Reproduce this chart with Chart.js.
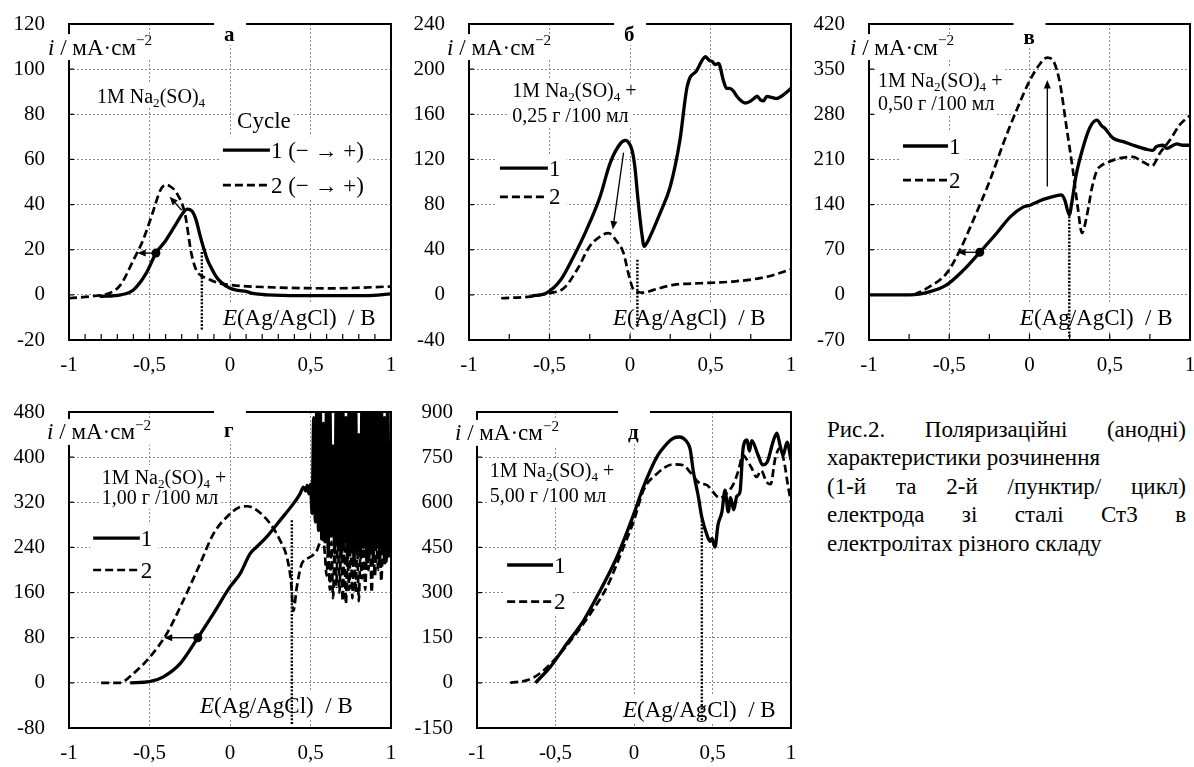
<!DOCTYPE html>
<html>
<head>
<meta charset="utf-8">
<script src="https://cdn.jsdelivr.net/npm/chart.js@4.4.1/dist/chart.umd.min.js"></script>
<style>
  body { margin: 0; background: #fff; width: 1194px; height: 767px; position: relative; overflow: hidden; }
  canvas { position: absolute; }
  #caption { position: absolute; left: 827px; top: 416px; width: 359px; font-size: 23px; line-height: 28.4px; color: #000;
             font-family: "Liberation Serif", "DejaVu Serif", "Times New Roman", serif; }
  #caption .j { text-align: justify; text-align-last: justify; }
</style>
</head>
<body>
<canvas id="pa" width="400" height="385" style="left:0;top:0"></canvas>
<canvas id="pb" width="400" height="385" style="left:400px;top:0"></canvas>
<canvas id="pc" width="394" height="385" style="left:800px;top:0"></canvas>
<canvas id="pd" width="400" height="382" style="left:0;top:385px"></canvas>
<canvas id="pe" width="400" height="382" style="left:400px;top:385px"></canvas>
<div id="caption">
  <div class="j">Рис.2. Поляризаційні (анодні)</div>
  <div>характеристики розчинення</div>
  <div class="j">(1-й та 2-й /пунктир/ цикл)</div>
  <div class="j">електрода зі сталі Ст3 в</div>
  <div>електролітах різного складу</div>
</div>
<script>
const FONT = '"Liberation Serif", "DejaVu Serif", "Times New Roman", serif';

// x axis (E, V) shared by all panels
const xTickVals = [-1, -0.5, 0, 0.5, 1];
const xTickLabels = ['-1', '-0,5', '0', '0,5', '1'];

// y ticks per panel
const yTicksA = [-20, 0, 20, 40, 60, 80, 100, 120];
const yTicksB = [-40, 0, 40, 80, 120, 160, 200, 240];
const yTicksC = [-70, 0, 70, 140, 210, 280, 350, 420];
const yTicksD = [-80, 0, 80, 160, 240, 320, 400, 480];
const yTicksE = [-150, 0, 150, 300, 450, 600, 750, 900];

// panel а: 1M Na2(SO)4, [E, i]
const a1 = [[-0.81,-0.7],[-0.68,0],[-0.6,2.2],[-0.52,9.6],[-0.46,18.5],[-0.4,24],[-0.33,32],[-0.29,36.5],[-0.265,38],
  [-0.235,37],[-0.21,33],[-0.185,26],[-0.165,21],[-0.14,15.5],[-0.12,12.5],[-0.09,8.5],[-0.06,5.9],[0,2.9],[0.05,2],
  [0.1,1.5],[0.15,0.5],[0.23,0],[0.44,-0.3],[0.85,-0.3],[1,0.4]];
const a2 = [[-1,-1.5],[-0.83,-0.4],[-0.75,0.7],[-0.68,4.4],[-0.6,15.4],[-0.54,24.3],[-0.475,37.5],[-0.435,46],[-0.4,48.8],
  [-0.37,48],[-0.33,45],[-0.28,36],[-0.24,18.4],[-0.21,11],[-0.18,8.5],[-0.145,7.4],[-0.08,5.4],[0,4.4],[0.23,3.4],
  [0.64,2.9],[1,3.7]];

// panel б: + 0,25 г /100 мл
const b1 = [[-0.61,-1],[-0.52,1.5],[-0.43,13.3],[-0.35,34],[-0.27,57.6],[-0.186,87],[-0.123,117],[-0.06,134],[-0.03,136.8],
  [0,133],[0.015,127],[0.03,113.7],[0.05,84],[0.073,54.7],[0.088,43],[0.1,45],[0.115,48.7],[0.187,72.4],[0.25,96],
  [0.31,137],[0.355,184.6],[0.415,199],[0.47,211],[0.49,208],[0.51,206.8],[0.53,204],[0.55,205],[0.58,190],[0.6,183],
  [0.62,183],[0.64,181],[0.665,175.8],[0.69,172],[0.715,170],[0.74,171],[0.77,174],[0.79,176],[0.81,172.8],[0.83,172],
  [0.85,175.8],[0.88,175],[0.91,174],[0.94,176],[0.965,178.7],[1,183]];
const b2 = [[-0.8,-3],[-0.62,-1.5],[-0.5,1.5],[-0.41,6],[-0.33,22],[-0.25,43],[-0.186,51.7],[-0.134,54.7],[-0.08,47],
  [-0.04,37],[-0.01,19],[0.02,5],[0.05,2.5],[0.085,2],[0.146,4.4],[0.27,8.9],[0.436,10.3],[0.64,11.8],[0.85,16],[1,22.7]];

// panel в: + 0,50 г /100 мл
const c1 = [[-1,0],[-0.745,0],[-0.62,5],[-0.516,15.5],[-0.41,38.7],[-0.31,66],[-0.205,95.5],[-0.12,121],[-0.04,136],
  [0.003,139],[0.086,148],[0.17,154],[0.2,155],[0.22,147],[0.248,124],[0.265,145],[0.29,185],[0.334,229],[0.377,260],
  [0.42,271],[0.45,262],[0.47,258],[0.52,243],[0.585,237.6],[0.647,232],[0.73,225.7],[0.77,224],[0.79,229.9],[0.832,232],
  [0.855,227],[0.917,234],[0.956,232],[1,232]];
const c2 = [[-0.72,0],[-0.62,13],[-0.516,33.6],[-0.433,69.7],[-0.35,116],[-0.246,178],[-0.163,235],[-0.08,286.7],
  [0.003,333],[0.065,358],[0.11,368],[0.15,362],[0.19,328],[0.23,261],[0.27,194],[0.3,137],[0.327,96],[0.356,121],
  [0.39,167],[0.42,193],[0.44,199],[0.483,205],[0.564,212],[0.645,214],[0.707,206],[0.763,200],[0.813,220],[0.875,240],
  [0.937,264],[1,278]];

// panel г: + 1,00 г /100 мл (noisy above 0.5 V, peaks off scale)
const d1 = [[-0.62,0],[-0.5,2],[-0.414,10.6],[-0.31,34],[-0.2,80],[-0.103,122.8],[0,170],[0.063,193.6],[0.125,229],
  [0.166,241],[0.228,258.6],[0.311,288],[0.394,317.6],[0.435,335],[0.456,347],[0.47,340],[0.48,350],[0.49,335],[0.5,352],
  [0.51,300],[0.52,470],[0.53,285],[0.54,500],[0.55,270],[0.56,500],[0.57,255],[0.58,460],[0.59,250],[0.6,500],
  [0.61,235],[0.62,500],[0.63,260],[0.64,420],[0.65,230],[0.66,500],[0.67,245],[0.68,500],[0.69,225],[0.7,500],
  [0.71,250],[0.72,470],[0.73,220],[0.74,500],[0.75,240],[0.76,500],[0.77,215],[0.78,500],[0.79,235],[0.8,440],
  [0.81,225],[0.82,500],[0.83,240],[0.84,500],[0.85,215],[0.86,500],[0.87,230],[0.88,480],[0.89,215],[0.9,500],
  [0.91,240],[0.92,500],[0.93,220],[0.94,500],[0.95,230],[0.96,470],[0.97,215],[0.98,500],[0.99,225],[1,300]];
const d2 = [[-0.8,0],[-0.685,0],[-0.6,16.5],[-0.497,46],[-0.393,87],[-0.29,146],[-0.186,211],[-0.103,264],[-0.02,294],
  [0.063,311.7],[0.105,313],[0.166,306],[0.25,282],[0.311,252.6],[0.353,223],[0.378,182],[0.394,128],[0.415,170],
  [0.446,211],[0.498,223],[0.54,235],[0.56,250],[0.578,258],[0.59,225],[0.6,190],[0.61,240],[0.62,165],[0.63,250],
  [0.64,150],[0.65,240],[0.66,170],[0.67,255],[0.68,160],[0.69,245],[0.7,145],[0.71,250],[0.72,140],[0.73,230],
  [0.74,165],[0.75,255],[0.76,150],[0.77,235],[0.78,160],[0.79,240],[0.8,145],[0.81,230],[0.82,185],[0.83,250],
  [0.84,165],[0.85,245],[0.86,200],[0.87,250],[0.88,160],[0.89,240],[0.9,190],[0.91,255],[0.92,200],[0.93,245],
  [0.94,180],[0.95,250],[0.96,210],[0.97,255],[0.98,220],[0.99,250],[1,240]];

// panel д: + 5,00 г /100 мл
const e1 = [[-0.628,0],[-0.533,53],[-0.427,131],[-0.32,208],[-0.214,308],[-0.108,419],[0,563],[0.06,651],[0.146,751],
  [0.21,795],[0.25,813],[0.29,817],[0.33,805],[0.357,778],[0.378,702],[0.408,624],[0.433,548],[0.465,491],[0.485,470],
  [0.497,480],[0.516,451],[0.535,525],[0.56,568],[0.58,640],[0.6,568],[0.615,615],[0.635,575],[0.655,620],[0.675,634],
  [0.695,780],[0.72,807],[0.735,770],[0.75,805],[0.79,757],[0.82,724],[0.85,735],[0.885,800],[0.91,830],[0.93,790],
  [0.95,757],[0.975,800],[1,740]];
const e2 = [[-0.788,0],[-0.68,9],[-0.6,31],[-0.49,86],[-0.384,153],[-0.278,230],[-0.172,319],[-0.066,452],[0,540],
  [0.06,640],[0.146,695],[0.25,726],[0.316,723],[0.357,700],[0.42,663],[0.465,657],[0.503,634],[0.548,614],[0.58,625],
  [0.63,657],[0.662,700],[0.695,757],[0.715,745],[0.75,713],[0.78,684],[0.81,705],[0.845,667],[0.87,660],[0.9,747],
  [0.93,780],[0.96,724],[0.98,657],[1,601]];

const NA = [['1M Na', ''], ['2', 'sub'], ['(SO)', ''], ['4', 'sub']];
const NAPLUS = NA.concat([[' +', '']]);
const ILABEL = [['i', 'i'], [' / мА·см', ''], ['−2', 'sup']];
const ELABEL = [['E', 'i'], ['(Ag/AgCl)  / B', '']];

function applyPart(ctx, s, size) {
  const small = s === 'sub' || s === 'sup';
  const style = s === 'i' ? 'italic ' : s === 'b' ? 'bold ' : '';
  ctx.font = style + (small ? size * 0.66 : size) + 'px ' + FONT;
  return s === 'sub' ? size * 0.2 : s === 'sup' ? -size * 0.4 : 0;
}
function partsWidth(ctx, parts, size) {
  let w = 0;
  for (const [t, s] of parts) { applyPart(ctx, s, size); w += ctx.measureText(t).width; }
  return w;
}
function drawParts(ctx, parts, x, yMid, size) {
  const base = yMid + size * 0.33;
  ctx.textAlign = 'left';
  ctx.textBaseline = 'alphabetic';
  ctx.fillStyle = '#000';
  let cx = x;
  for (const [t, s] of parts) {
    const dy = applyPart(ctx, s, size);
    ctx.fillText(t, cx, base + dy);
    cx += ctx.measureText(t).width;
  }
}
function arrow(ctx, x1, y1, x2, y2) {
  const a = Math.atan2(y2 - y1, x2 - x1), h = 9;
  ctx.beginPath();
  ctx.moveTo(x1, y1);
  ctx.lineTo(x2 - Math.cos(a) * h * 0.7, y2 - Math.sin(a) * h * 0.7);
  ctx.stroke();
  ctx.beginPath();
  ctx.moveTo(x2, y2);
  ctx.lineTo(x2 - h * Math.cos(a - 0.4), y2 - h * Math.sin(a - 0.4));
  ctx.lineTo(x2 - h * Math.cos(a + 0.4), y2 - h * Math.sin(a + 0.4));
  ctx.closePath();
  ctx.fill();
}

const decorPlugin = {
  id: 'decor',
  beforeDatasetsDraw(chart, args, o) {
    const ctx = chart.ctx, ca = chart.chartArea;
    const px = f => ca.left + f * ca.width, py = f => ca.top + f * ca.height;
    ctx.save();
    ctx.fillStyle = '#fff';
    for (const n of o.notes) {
      const w = partsWidth(ctx, n.parts, n.size);
      ctx.fillRect(px(n.fx) - 3, py(n.fy) - n.size * 0.6, w + 6, n.size * 1.2);
    }
    const L = o.legend;
    const tw = Math.max(...L.rows.map(r => partsWidth(ctx, [[r.text, '']], L.size)));
    const y0 = py(L.rows[0].fy) - L.size * 0.6, y1 = py(L.rows[L.rows.length - 1].fy) + L.size * 0.6;
    ctx.fillRect(px(L.x1) - 3, y0, px(L.x2) - px(L.x1) + tw + 10, y1 - y0);
    ctx.restore();
  },
  afterDatasetsDraw(chart, args, o) {
    const ctx = chart.ctx, ca = chart.chartArea, sx = chart.scales.x, sy = chart.scales.y;
    const px = f => ca.left + f * ca.width, py = f => ca.top + f * ca.height;
    ctx.save();
    ctx.strokeStyle = '#000';
    ctx.fillStyle = '#000';
    // inner tick marks
    ctx.lineWidth = 1.2;
    if (o.minor) {
      const n = Math.round(2 / o.minor);
      for (let k = 1; k < n; k++) {
        const x = sx.getPixelForValue(-1 + k * o.minor);
        ctx.beginPath(); ctx.moveTo(x, ca.bottom); ctx.lineTo(x, ca.bottom - 6); ctx.stroke();
      }
    }
    for (const t of sy.ticks) {
      const y = sy.getPixelForValue(t.value);
      ctx.beginPath(); ctx.moveTo(ca.left, y); ctx.lineTo(ca.left + 5, y); ctx.stroke();
    }
    // frame
    ctx.lineWidth = 2;
    ctx.strokeRect(ca.left, ca.top, ca.right - ca.left, ca.bottom - ca.top);
    // title with gap in the top border
    const cx = (ca.left + ca.right) / 2;
    ctx.fillStyle = '#fff';
    ctx.fillRect(cx - 16, ca.top - 3, 32, o.titleDy + 14);
    drawParts(ctx, [[o.title, 'b']], cx - 6, ca.top + o.titleDy, 21);
    // axis label, covers the left border
    const aw = partsWidth(ctx, ILABEL, 23);
    ctx.fillStyle = '#fff';
    ctx.fillRect(px(o.axisLabel.fx) - 2, py(o.axisLabel.fy) - 13, aw + 6, 26);
    drawParts(ctx, ILABEL, px(o.axisLabel.fx), py(o.axisLabel.fy), 23);
    // notes
    for (const n of o.notes) drawParts(ctx, n.parts, px(n.fx), py(n.fy), n.size);
    // legend
    const L = o.legend;
    for (const r of L.rows) {
      const y = py(r.fy);
      ctx.lineWidth = r.dash ? 2.6 : 3.4;
      ctx.setLineDash(r.dash ? [8, 4] : []);
      ctx.beginPath(); ctx.moveTo(px(L.x1), y); ctx.lineTo(px(L.x2), y); ctx.stroke();
      ctx.setLineDash([]);
      drawParts(ctx, [[r.text, '']], px(L.x2) + 1, y, L.size);
    }
    // dotted markers
    ctx.strokeStyle = '#000';
    ctx.lineWidth = 2.4;
    ctx.setLineDash([2, 1.6]);
    for (const [x, y1, y2] of o.dotted) {
      ctx.beginPath();
      ctx.moveTo(sx.getPixelForValue(x), sy.getPixelForValue(y1));
      ctx.lineTo(sx.getPixelForValue(x), sy.getPixelForValue(y2));
      ctx.stroke();
    }
    ctx.setLineDash([]);
    // arrows and dots
    ctx.lineWidth = 1.3;
    ctx.fillStyle = '#000';
    for (const [x1, y1, x2, y2] of o.arrows) {
      arrow(ctx, sx.getPixelForValue(x1), sy.getPixelForValue(y1), sx.getPixelForValue(x2), sy.getPixelForValue(y2));
    }
    for (const [x, y] of o.dots) {
      ctx.beginPath();
      ctx.arc(sx.getPixelForValue(x), sy.getPixelForValue(y), 4.5, 0, Math.PI * 2);
      ctx.fill();
    }
    ctx.restore();
  }
};

function pts(arr) { return arr.map(p => ({x: p[0], y: p[1]})); }

function makePanel(id, s1, s2, yTicks, box, decor) {
  const tickFont = {family: FONT, size: 21};
  return new Chart(document.getElementById(id), {
    type: 'scatter',
    data: {
      datasets: [
        {data: pts(s1), showLine: true, borderColor: '#000', borderWidth: 3.3, pointRadius: 0,
         cubicInterpolationMode: 'monotone'},
        {data: pts(s2), showLine: true, borderColor: '#000', borderWidth: 2.7, borderDash: [8, 4], pointRadius: 0,
         cubicInterpolationMode: 'monotone'}
      ]
    },
    options: {
      responsive: false,
      animation: false,
      devicePixelRatio: 1,
      layout: {padding: {top: box.top, right: box.right, left: 0, bottom: 0}},
      plugins: {legend: {display: false}, tooltip: {enabled: false}, decor: decor},
      scales: {
        x: {
          type: 'linear', min: -1, max: 1,
          afterBuildTicks: s => { s.ticks = xTickVals.map(v => ({value: v})); },
          afterFit: s => { s.height = box.xh; s.paddingLeft = 0; s.paddingRight = 0; },
          ticks: {autoSkip: false, maxRotation: 0, padding: 13, color: '#000', font: tickFont,
                  callback: v => xTickLabels[xTickVals.indexOf(v)]},
          grid: {color: '#8c8c8c', lineWidth: 1, drawTicks: false},
          border: {display: false, dash: [2, 2]}
        },
        y: {
          type: 'linear', min: yTicks[0], max: yTicks[yTicks.length - 1],
          afterBuildTicks: s => { s.ticks = yTicks.map(v => ({value: v})); },
          afterFit: s => { s.width = box.yw; s.paddingTop = 0; s.paddingBottom = 0; },
          ticks: {autoSkip: false, padding: 24, color: '#000', font: tickFont, callback: v => String(v)},
          grid: {color: '#8c8c8c', lineWidth: 1, drawTicks: false},
          border: {display: false, dash: [2, 2]}
        }
      }
    },
    plugins: [decorPlugin]
  });
}

makePanel('pa', a1, a2, yTicksA, {yw: 69, top: 24, right: 9, xh: 45}, {
  title: 'а', titleDy: 10, minor: 0.1,
  axisLabel: {fx: -0.065, fy: 0.073},
  notes: [
    {fx: 0.087, fy: 0.228, size: 20, parts: NA},
    {fx: 0.522, fy: 0.304, size: 23, parts: [['Cycle', '']]},
    {fx: 0.478, fy: 0.93, size: 23, parts: ELABEL}
  ],
  legend: {x1: 0.478, x2: 0.624, size: 23, rows: [
    {fy: 0.399, dash: false, text: '1 (− → +)'}, {fy: 0.51, dash: true, text: '2 (− → +)'}]},
  dots: [[-0.46, 18.5]],
  arrows: [[-0.46, 18.5, -0.575, 18.5], [-0.3, 37.5, -0.375, 43.5]],
  dotted: [[-0.175, 19, -16]]
});

makePanel('pb', b1, b2, yTicksB, {yw: 69, top: 24, right: 9, xh: 45}, {
  title: 'б', titleDy: 10, minor: 0.25,
  axisLabel: {fx: -0.068, fy: 0.073},
  notes: [
    {fx: 0.134, fy: 0.209, size: 20, parts: NAPLUS},
    {fx: 0.134, fy: 0.288, size: 20, parts: [['0,25 г /100 мл', '']]},
    {fx: 0.447, fy: 0.93, size: 23, parts: ELABEL}
  ],
  legend: {x1: 0.096, x2: 0.245, size: 23, rows: [{fy: 0.456, dash: false, text: '1'}, {fy: 0.547, dash: true, text: '2'}]},
  dots: [],
  arrows: [[-0.04, 126, -0.107, 58]],
  dotted: [[0.046, 31, -29]]
});

makePanel('pc', c1, c2, yTicksC, {yw: 69, top: 24, right: 4, xh: 45}, {
  title: 'в', titleDy: 13, minor: 0.25,
  axisLabel: {fx: -0.059, fy: 0.073},
  notes: [
    {fx: 0.028, fy: 0.177, size: 20, parts: NAPLUS},
    {fx: 0.028, fy: 0.25, size: 20, parts: [['0,50 г /100 мл', '']]},
    {fx: 0.47, fy: 0.93, size: 23, parts: ELABEL}
  ],
  legend: {x1: 0.106, x2: 0.246, size: 23, rows: [{fy: 0.386, dash: false, text: '1'}, {fy: 0.494, dash: true, text: '2'}]},
  dots: [[-0.31, 66]],
  arrows: [[-0.31, 66, -0.45, 66], [0.111, 168, 0.111, 333]],
  dotted: [[0.248, 122, -65]]
});

makePanel('pd', d1, d2, yTicksD, {yw: 69, top: 27, right: 9, xh: 39}, {
  title: 'г', titleDy: 18, minor: 0,
  axisLabel: {fx: -0.068, fy: 0.063},
  notes: [
    {fx: 0.102, fy: 0.206, size: 20, parts: NAPLUS},
    {fx: 0.102, fy: 0.269, size: 20, parts: [['1,00 г /100 мл', '']]},
    {fx: 0.407, fy: 0.93, size: 23, parts: ELABEL}
  ],
  legend: {x1: 0.075, x2: 0.22, size: 23, rows: [{fy: 0.399, dash: false, text: '1'}, {fy: 0.5, dash: true, text: '2'}]},
  dots: [[-0.2, 80]],
  arrows: [[-0.2, 80, -0.41, 80]],
  dotted: [[0.384, 288, -75]]
});

makePanel('pe', e1, e2, yTicksE, {yw: 77, top: 27, right: 9, xh: 39}, {
  title: 'д', titleDy: 20, minor: 0,
  axisLabel: {fx: -0.07, fy: 0.066},
  notes: [
    {fx: 0.041, fy: 0.184, size: 20, parts: NAPLUS},
    {fx: 0.041, fy: 0.263, size: 20, parts: [['5,00 г /100 мл', '']]},
    {fx: 0.465, fy: 0.94, size: 23, parts: ELABEL}
  ],
  legend: {x1: 0.096, x2: 0.242, size: 23, rows: [{fy: 0.484, dash: false, text: '1'}, {fy: 0.6, dash: true, text: '2'}]},
  dots: [],
  arrows: [],
  dotted: [[0.432, 540, -124]]
});
</script>
</body>
</html>
